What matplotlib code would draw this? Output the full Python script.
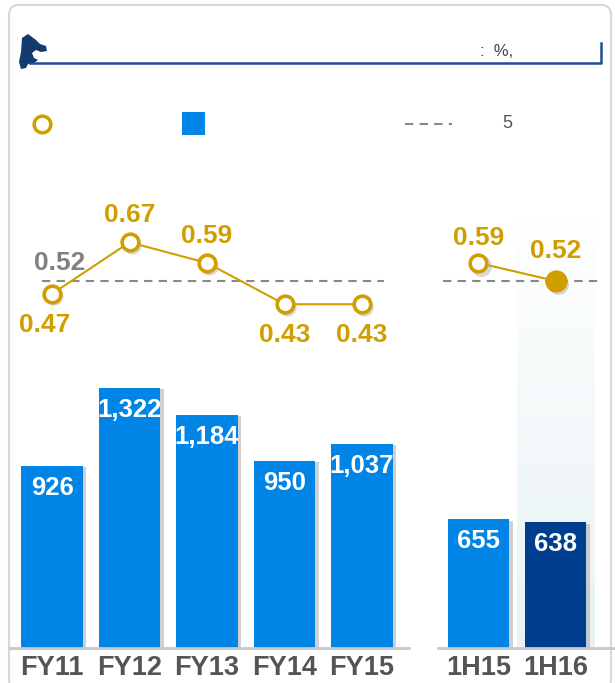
import matplotlib.pyplot as plt
import numpy as np
from matplotlib.patches import FancyBboxPatch, Rectangle, Polygon
from matplotlib.lines import Line2D
from matplotlib.colors import LinearSegmentedColormap

plt.rcParams['font.family'] = ['Liberation Sans', 'DejaVu Sans']

fy_labels = ["FY11", "FY12", "FY13", "FY14", "FY15"]
fy_values = [926, 1322, 1184, 950, 1037]
fy_ratio = [0.47, 0.67, 0.59, 0.43, 0.43]
h_labels = ["1H15", "1H16"]
h_values = [655, 638]
h_ratio = [0.59, 0.52]
ref_level = 0.52

blue = "#0085e6"
dark_blue = "#003f8f"
gold = "#d19e00"
gray_txt = "#555555"

W, H = 615, 683
fig = plt.figure(figsize=(W / 100, H / 100), dpi=100)


def fx(x):
    return x / W


def fy(y):
    return 1 - y / H


# card border
fig.patches.append(FancyBboxPatch((fx(9), fy(690)), fx(602), fy(5) - fy(690),
                                  boxstyle="round,pad=0,rounding_size=0.015",
                                  transform=fig.transFigure, fc="none",
                                  ec="#d8d8d8", lw=1.5, zorder=-5))

# header rule + logo
fig.add_artist(Line2D([fx(30), fx(601), fx(601)], [fy(63), fy(63), fy(43)],
                      transform=fig.transFigure, color="#1f4e96", lw=1.8))
logo = np.array([[22, 38], [28, 34], [36, 40], [40, 44], [46, 46], [47, 51],
                 [41, 52], [36, 50], [32, 53], [34, 58], [38, 60], [34, 63],
                 [28, 64], [26, 68], [21, 69], [19, 62], [21, 52]])
fig.add_artist(Polygon(np.c_[fx(logo[:, 0]), fy(logo[:, 1])], closed=True,
                       transform=fig.transFigure, fc="#123a6e", ec="none"))
fig.text(fx(480), fy(52), ":  %,", fontsize=12, color="#444444",
         ha="left", va="center")

# legend row
fig.add_artist(Line2D([fx(42)], [fy(124)], transform=fig.transFigure,
                      marker="o", ms=12, mfc="white", mec=gold, mew=2.5))
fig.add_artist(Rectangle((fx(182), fy(135)), fx(23), fy(112) - fy(135),
                         transform=fig.transFigure, fc=blue, ec="none"))
fig.add_artist(Line2D([fx(405), fx(452)], [fy(124), fy(124)],
                      transform=fig.transFigure, color="#888888", lw=1.5,
                      ls=(0, (4, 3))))
fig.text(fx(502), fy(124), "5", fontsize=13, color=gray_txt, va="center")

# main axes
px0, step = 52, 77.5
x_fy = np.arange(len(fy_labels))
x_h = np.array([5.5, 6.5])
top_px, base_px = 150, 648
scale = 0.197
xlim = (-px0 / step, (W - px0) / step)
ylim = (0, (base_px - top_px) / scale)
ax = fig.add_axes([0, fy(base_px), 1, (base_px - top_px) / H])
ax.axis("off")

# highlight band behind 1H16
grad = np.linspace(1, 0, 256).reshape(-1, 1)
band_top = (base_px - 215) / scale
ax.imshow(grad, extent=(6.5 - 0.5, 6.5 + 0.5, 0, band_top), aspect="auto",
          cmap=LinearSegmentedColormap.from_list("b", ["white", "#e8f2f5"]),
          origin="lower", zorder=0)

bw = 0.79
for xs, vals, cols in [(x_fy, fy_values, [blue] * 5),
                       (x_h, h_values, [blue, dark_blue])]:
    ax.bar(xs + 0.05, np.array(vals) - 8, width=bw, color="#9a9a9a",
           alpha=0.45, zorder=1)
    ax.bar(xs, vals, width=bw, color=cols, zorder=2)
    for x, v in zip(xs, vals):
        ax.text(x, v - 22 / scale, f"{v:,}", ha="center",
                va="center", color="white", fontsize=18.5, fontweight="bold",
                zorder=3)

ax.plot([-0.54, 4.6], [0, 0], color="#c8c8c8", lw=2, clip_on=False, zorder=3)
ax.plot([4.98, 7.3], [0, 0], color="#c8c8c8", lw=2, clip_on=False, zorder=3)
for x, lab in zip(list(x_fy) + list(x_h), fy_labels + h_labels):
    ax.text(x, -20 / scale, lab, ha="center", va="center", color=gray_txt,
            fontsize=19.5, fontweight="bold", clip_on=False)
ax.set_xlim(*xlim)
ax.set_ylim(*ylim)

# ratio line
ax2 = ax.twinx()
ppu = 258
ax2.axis("off")

ax2.plot([-0.13, 4.28], [ref_level] * 2, color="#888888", lw=1.5,
         ls=(0, (4, 3)), zorder=1)
ax2.plot([5.04, 7.08], [ref_level] * 2, color="#888888", lw=1.5,
         ls=(0, (4, 3)), zorder=1)
ax2.text(0.1, ref_level + 0.07, f"{ref_level:.2f}", ha="center", va="center",
         color="#808080", fontsize=19, fontweight="bold")

ax2.plot(x_fy, fy_ratio, color=gold, lw=1.5, zorder=2)
ax2.plot(x_fy + 0.03, np.array(fy_ratio) - 0.01, ls="none", marker="o",
         ms=13, mfc="#b0b0b0", mec="none", alpha=0.5, zorder=2)
ax2.plot(x_fy, fy_ratio, ls="none", marker="o", ms=12, mfc="white",
         mec=gold, mew=2.6, zorder=3)
for i, (x, v) in enumerate(zip(x_fy, fy_ratio)):
    above = i in (1, 2)
    ax2.text(x - (0.09 if i == 0 else 0), v + (0.105 if above else -0.12),
             f"{v:.2f}", ha="center", va="center", color=gold, fontsize=19,
             fontweight="bold")

ax2.plot(x_h, h_ratio, color=gold, lw=1.5, zorder=2)
ax2.plot(x_h + 0.03, np.array(h_ratio) - 0.01, ls="none", marker="o",
         ms=15, mfc="#b0b0b0", mec="none", alpha=0.5, zorder=2)
ax2.plot(x_h[0], h_ratio[0], ls="none", marker="o", ms=12, mfc="white",
         mec=gold, mew=2.6, zorder=3)
ax2.plot(x_h[1], h_ratio[1], ls="none", marker="o", ms=15, mfc=gold,
         mec=gold, zorder=3)
ax2.text(x_h[0], h_ratio[0] + 0.095, f"{h_ratio[0]:.2f}", ha="center",
         va="center", color=gold, fontsize=19, fontweight="bold")
ax2.text(x_h[1], h_ratio[1] + 0.115, f"{h_ratio[1]:.2f}", ha="center",
         va="center", color=gold, fontsize=19, fontweight="bold")
ax2.set_xlim(*xlim)
ax2.set_ylim(ref_level - (base_px - 281) / ppu, ref_level + (281 - top_px) / ppu)

fig.savefig("out.png", dpi=100)
